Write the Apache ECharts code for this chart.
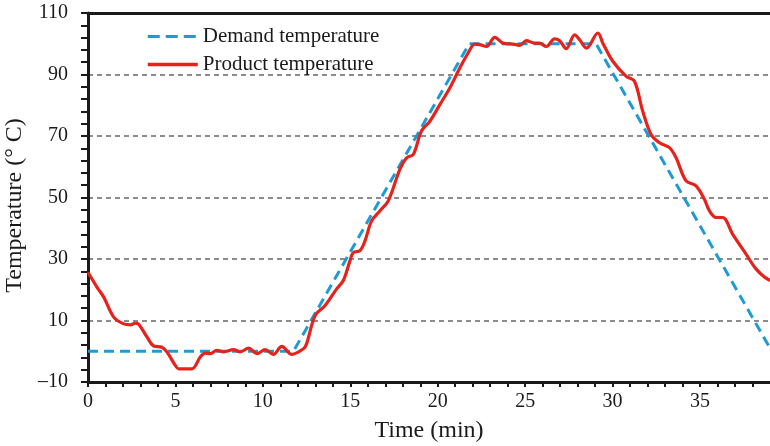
<!DOCTYPE html>
<html>
<head>
<meta charset="utf-8">
<script src="https://cdn.jsdelivr.net/npm/echarts@6/dist/echarts.min.js"></script>
<style>
  html, body { margin: 0; padding: 0; background: #fff; }
  #chart { width: 770px; height: 446px; }
</style>
</head>
<body>
<div id="chart"></div>
<script>
// Set-point profile: hold, ramp up, hold at 100 °C, ramp down
const demandTime = [0, 11.75, 21.8, 29.05, 39.1, 40];
const demandTemp = [0, 0, 100, 100, 0, -9];

// Measured product temperature (min, °C)
const productTime = [
  0, 0.52, 0.9, 1.47, 2.04, 2.43, 2.71, 2.9, 3.38, 3.76, 4.23, 4.52, 4.99, 5.18,
  5.66, 5.95, 6.42, 6.7, 6.99, 7.37, 7.75, 8.32, 8.7, 9.18, 9.66, 10.13, 10.6,
  11.08, 11.65, 12.32, 12.5, 12.99, 13.56, 14.22, 14.6, 14.98, 15.17, 15.55,
  15.84, 16.22, 16.7, 17.17, 17.84, 18.22, 18.6, 19.07, 19.55, 20.12, 20.69,
  21.26, 21.74, 22.12, 22.4, 22.79, 23.26, 23.73, 24.3, 24.69, 25.07, 25.54,
  25.8, 26.21, 26.68, 26.97, 27.35, 27.83, 28.11, 28.5, 29.16, 29.44, 30.01,
  30.78, 31.25, 31.72, 32.2, 32.68, 33.25, 33.63, 34.2, 34.77, 35.25, 35.53,
  35.91, 36.29, 36.86, 37.63, 38.2, 38.86, 40
];
const productTemp = [
  25.7, 20.8, 17.6, 11.1, 8.9, 8.6, 9.1, 8.8, 4.6, 1.7, 1.3, -0.3, -4.6, -5.7,
  -5.7, -5.7, -1.9, -0.6, -0.8, 0.3, -0.2, 0.5, -0.2, 1.0, -0.8, 0.5, -1.0,
  1.6, -1.0, 0.8, 2.4, 11.6, 14.9, 20.3, 23.0, 29.4, 32.1, 32.7,
  35.9, 42.4, 45.7, 48.9, 59.2, 62.9, 64.0, 71.6, 74.8, 80.2, 85.6,
  92.1, 97.0, 99.9, 99.7, 99.1, 102.1, 100.2, 99.9, 99.5, 101.0, 100.2,
  100.2, 99.1, 101.6, 101.0, 98.4, 102.9, 101.3, 98.6, 103.5, 100.2, 94.3,
  89.4, 87.8, 78.1, 70.5, 67.8, 66.2, 62.9, 55.4, 53.8, 49.4, 45.7,
  43.5, 43.5, 38.1, 31.6, 26.8, 23.5, 21.0
];

// Axis labels
const yTicks = [-10, 10, 30, 50, 70, 90, 110];
const xTicks = [0, 5, 10, 15, 20, 25, 30, 35];

const seriesNames = ['Demand temperature', 'Product temperature'];
const xTitle = 'Time (min)';
const yTitle = 'Temperature (° C)';

const zip = (a, b) => a.map((v, i) => [v, b[i]]);

const FONT = "'Liberation Serif', 'DejaVu Serif', serif";
const INK = '#1a1a1a';
const BLUE = '#1e9ad6';
const RED = '#e5221c';

const chart = echarts.init(document.getElementById('chart'), null, { renderer: 'canvas' });

chart.setOption({
  animation: false,
  backgroundColor: '#ffffff',
  grid: {
    left: 88,
    top: 13,
    bottom: 64,
    right: 0,
    show: false,
    containLabel: false,
    outerBoundsMode: 'none'
  },
  legend: {
    orient: 'vertical',
    left: 146,
    top: 26,
    padding: 0,
    itemWidth: 50,
    itemHeight: 3,
    itemGap: 7,
    itemStyle: { opacity: 0 },
    textStyle: { fontFamily: FONT, fontSize: 21, color: INK },
    data: [
      { name: seriesNames[0], lineStyle: { color: BLUE, width: 3, type: [12, 6] } },
      { name: seriesNames[1], lineStyle: { color: RED, width: 3.5 } }
    ]
  },
  xAxis: [
    {
      type: 'value',
      min: 0,
      max: 39,
      interval: 1,
      name: xTitle,
      nameLocation: 'middle',
      nameGap: 37,
      nameTextStyle: { fontFamily: FONT, fontSize: 24, color: INK },
      axisLine: { show: true, onZero: false, lineStyle: { color: INK, width: 3 } },
      axisTick: { show: true, inside: false, length: 5, lineStyle: { color: INK, width: 2 } },
      axisLabel: {
        fontFamily: FONT, fontSize: 20, color: INK, margin: 10, showMaxLabel: false,
        formatter: v => (xTicks.includes(v) ? String(v) : '')
      },
      splitLine: { show: false }
    },
    {
      // top frame edge
      type: 'value',
      position: 'top',
      min: 0,
      max: 39,
      axisLine: { show: true, onZero: false, lineStyle: { color: INK, width: 3 } },
      axisTick: { show: false },
      axisLabel: { show: false },
      splitLine: { show: false }
    }
  ],
  yAxis: {
    type: 'value',
    min: yTicks[0],
    max: yTicks[yTicks.length - 1],
    interval: 20,
    name: yTitle,
    nameLocation: 'middle',
    nameGap: 58,
    nameRotate: 90,
    nameTextStyle: { fontFamily: FONT, fontSize: 24, color: INK, padding: [0, 16, 0, 0] },
    axisLine: { show: true, lineStyle: { color: INK, width: 3 } },
    axisTick: { show: true, inside: false, length: 7, lineStyle: { color: INK, width: 2 } },
    minorTick: { show: true, splitNumber: 5, length: 7, lineStyle: { color: INK, width: 2 } },
    axisLabel: {
      fontFamily: FONT, fontSize: 20, color: INK, margin: 20,
      formatter: v => (v < 0 ? '\u2013' + Math.abs(v) : String(v))
    },
    splitLine: {
      show: true,
      lineStyle: { color: '#8c8c8c', width: 2, type: [5, 4] }
    }
  },
  series: [
    {
      name: seriesNames[0],
      type: 'line',
      data: zip(demandTime, demandTemp),
      showSymbol: false,
      symbol: 'none',
      color: BLUE,
      lineStyle: { color: BLUE, width: 3, type: [10, 6] },
      z: 3
    },
    {
      name: seriesNames[1],
      type: 'line',
      data: zip(productTime, productTemp),
      showSymbol: false,
      symbol: 'none',
      smooth: 0.35,
      color: RED,
      lineStyle: { color: RED, width: 3.2 },
      z: 4
    }
  ]
});
</script>
</body>
</html>
